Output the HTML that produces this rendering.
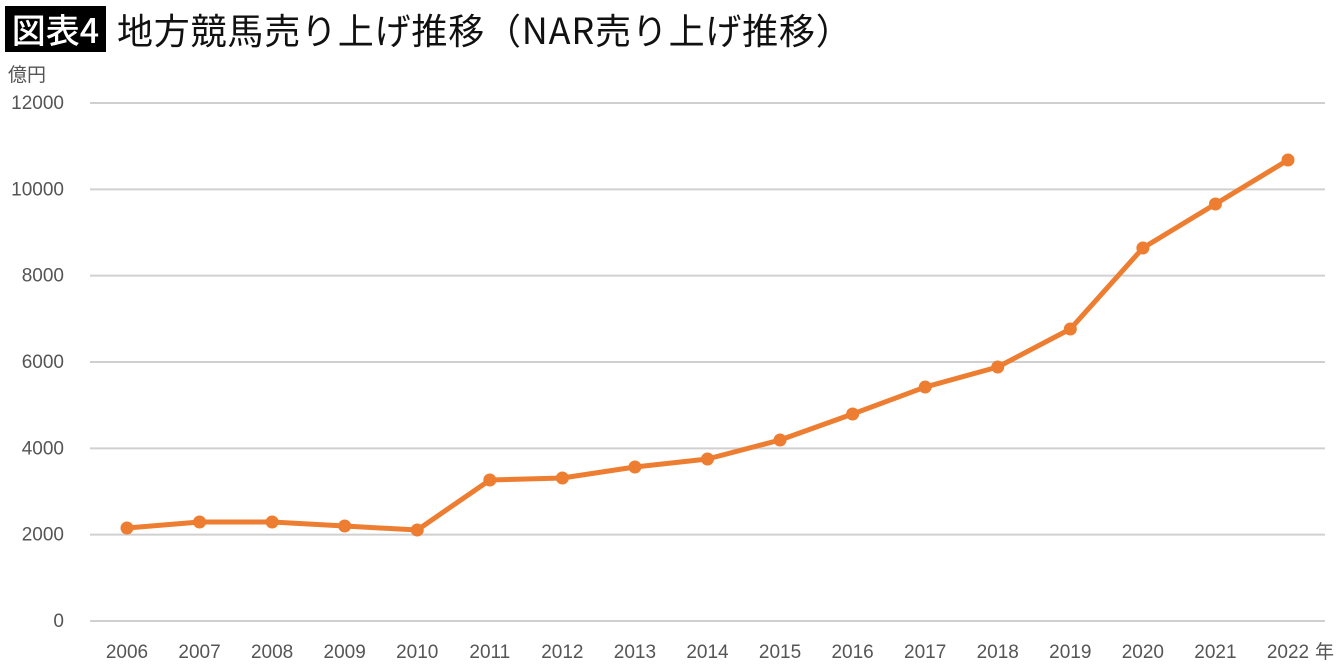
<!DOCTYPE html>
<html><head><meta charset="utf-8"><style>
body{margin:0;width:1340px;height:665px;background:#fff;overflow:hidden;font-family:"Liberation Sans","Noto Sans CJK JP",sans-serif;}
#badge{position:absolute;left:5px;top:6px;width:101px;height:46px;background:#000;color:#fff;font-size:34px;font-weight:500;line-height:46px;text-align:center;font-family:"Noto Sans CJK JP",sans-serif;}
#title{position:absolute;left:117px;top:4px;font-size:36px;letter-spacing:0.8px;line-height:50px;color:#111;font-family:"Noto Sans CJK JP",sans-serif;font-weight:400;white-space:nowrap;}
svg{position:absolute;left:0;top:0;}
</style></head><body>
<div id="badge">図表4</div>
<div id="title">地方競馬売り上げ推移（NAR売り上げ推移）</div>
<svg id="chart" width="1340" height="665"></svg>
<script>
const years=["2006","2007","2008","2009","2010","2011","2012","2013","2014","2015","2016","2017","2018","2019","2020","2021","2022"];
const sales=[2154,2293,2293,2200,2108,3266,3312,3567,3753,4193,4795,5420,5884,6764,8640,9660,10679];
const yTicks=[0,2000,4000,6000,8000,10000,12000];
const NS="http://www.w3.org/2000/svg";
const svg=document.getElementById('chart');
const x=i=>127+i*(1288-127)/(years.length-1);
const y=v=>621-v*(621-103)/12000;
function mk(t,a){const e=document.createElementNS(NS,t);for(const k in a)e.setAttribute(k,a[k]);svg.appendChild(e);return e;}
yTicks.forEach(v=>{
 const l=mk('line',{x1:90,x2:1325,y1:y(v),y2:y(v),stroke:'#d0d0d0','stroke-width':2});
 
 
 const t=mk('text',{x:64,y:y(v)+6,'text-anchor':'end','font-size':19,fill:'#555','font-family':'Liberation Sans, sans-serif'});
 t.textContent=v;
 
 
});
const u=mk('text',{x:8,y:81,'font-size':19,fill:'#555','font-family':'Noto Sans CJK JP, sans-serif'});
u.textContent='億円';


years.forEach((yr,i)=>{
 const t=mk('text',{x:x(i),y:658,'text-anchor':'middle','font-size':19,fill:'#555','font-family':'Liberation Sans, sans-serif'});
 t.textContent=yr;
 
 
});
const yu=mk('text',{x:1315,y:658,'font-size':19,fill:'#555','font-family':'Noto Sans CJK JP, sans-serif'});
yu.textContent='年';


const p=mk('polyline',{points:sales.map((v,i)=>x(i)+','+y(v)).join(' '),fill:'none',stroke:'#ed7d31','stroke-width':5,'stroke-linejoin':'round'});


sales.forEach((v,i)=>{
 const c=mk('circle',{cx:x(i),cy:y(v),r:6.5,fill:'#ed7d31'});
 
 
});
</script>
</body></html>
